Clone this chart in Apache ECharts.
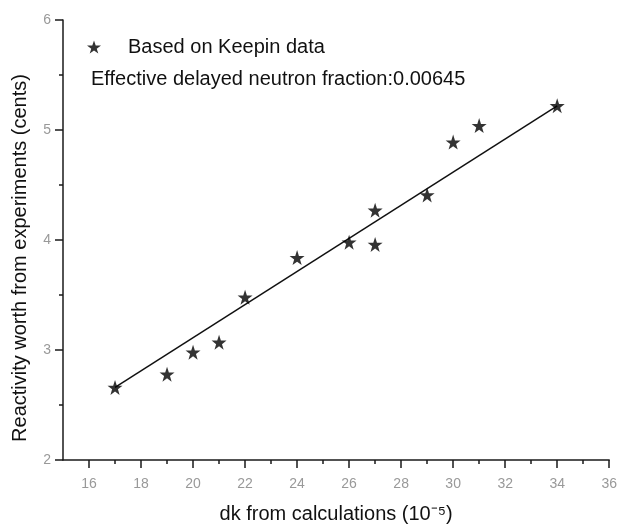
<!DOCTYPE html>
<html>
<head>
<meta charset="utf-8">
<script src="https://cdn.jsdelivr.net/npm/echarts@6/dist/echarts.min.js"></script>
<style>
html,body{margin:0;padding:0;background:#fff;}
#chart{width:620px;height:529px;}
</style>
</head>
<body>
<div id="chart"></div>
<script>
// Measured data (Keepin-based reactivity vs calculated dk)
const dkCalc = [17, 19, 20, 21, 22, 24, 26, 27, 27, 29, 30, 31, 34];
const reactivity = [2.66, 2.78, 2.98, 3.07, 3.48, 3.84, 3.98, 4.27, 3.96, 4.41, 4.89, 5.04, 5.22];
// Fitted line endpoints
const fitX = [17, 34];
const fitY = [2.66, 5.22];
// Tick labels
const xMajorTicks = [16, 18, 20, 22, 24, 26, 28, 30, 32, 34, 36];
const xMinorTicks = [17, 19, 21, 23, 25, 27, 29, 31, 33, 35];
const seriesName = 'Based on Keepin data';
const noteText = 'Effective delayed neutron fraction:0.00645';
const xTitle = 'dk from calculations (10⁻⁵)';
const yTitle = 'Reactivity worth from experiments (cents)';

const STAR = 'path://M50,0 L61.8,35.1 L98.1,35.1 L68.8,56.7 L79.4,91 L50,70 L20.6,91 L31.2,56.7 L1.9,35.1 L38.2,35.1 Z';
const FONT = 'Liberation Sans, Arial, sans-serif';

const chart = echarts.init(document.getElementById('chart'), null, {renderer: 'canvas'});
const gridBox = {left: 63, right: 10, top: 20, bottom: 66.5};
const axisLineStyle = {color: '#1a1a1a', width: 1.5};

chart.setOption({
  animation: false,
  backgroundColor: '#fff',
  grid: gridBox,
  legend: {
    data: [{name: seriesName, icon: STAR}],
    left: 82, top: 32,
    itemWidth: 14, itemHeight: 14, itemGap: 0,
    textStyle: {fontFamily: FONT, fontSize: 20, color: '#111', padding: [0, 0, 0, 22]}
  },
  title: {
    text: noteText,
    left: 86, top: 64,
    textStyle: {fontFamily: FONT, fontSize: 20, fontWeight: 'normal', color: '#111'}
  },
  graphic: [{
    type: 'text',
    x: 20, y: 258,
    rotation: Math.PI / 2,
    style: {
      text: yTitle,
      font: '20px ' + FONT,
      fill: '#111',
      align: 'center',
      verticalAlign: 'middle'
    }
  }],
  xAxis: [{
    type: 'value',
    min: 15, max: 36,
    name: xTitle,
    nameLocation: 'middle',
    nameGap: 44,
    nameTextStyle: {fontFamily: FONT, fontSize: 20, color: '#111'},
    axisLine: {show: true, onZero: false, lineStyle: axisLineStyle},
    axisTick: {show: true, length: 8, customValues: xMajorTicks, lineStyle: axisLineStyle},
    axisLabel: {show: true, customValues: xMajorTicks, margin: 17, fontFamily: FONT, fontSize: 14, color: '#999'},
    splitLine: {show: false}
  }, {
    type: 'value',
    min: 15, max: 36,
    position: 'bottom',
    axisLine: {show: false},
    axisTick: {show: true, length: 4, customValues: xMinorTicks, lineStyle: axisLineStyle},
    axisLabel: {show: false},
    splitLine: {show: false}
  }],
  yAxis: {
    type: 'value',
    min: 2, max: 6, interval: 1,
    axisLine: {show: true, onZero: false, lineStyle: axisLineStyle},
    axisTick: {show: true, length: 8, lineStyle: axisLineStyle},
    minorTick: {show: true, splitNumber: 2, length: 4, lineStyle: axisLineStyle},
    axisLabel: {margin: 12, fontFamily: FONT, fontSize: 14, color: '#999'},
    splitLine: {show: false},
    minorSplitLine: {show: false}
  },
  series: [{
    name: 'Linear fit',
    type: 'line',
    data: fitX.map((x, i) => [x, fitY[i]]),
    symbol: 'none',
    lineStyle: {color: '#111', width: 1.5},
    z: 2
  }, {
    name: seriesName,
    type: 'scatter',
    data: dkCalc.map((x, i) => [x, reactivity[i]]),
    symbol: STAR,
    symbolSize: 15,
    itemStyle: {color: '#000'},
    z: 3
  }]
});
</script>
</body>
</html>
